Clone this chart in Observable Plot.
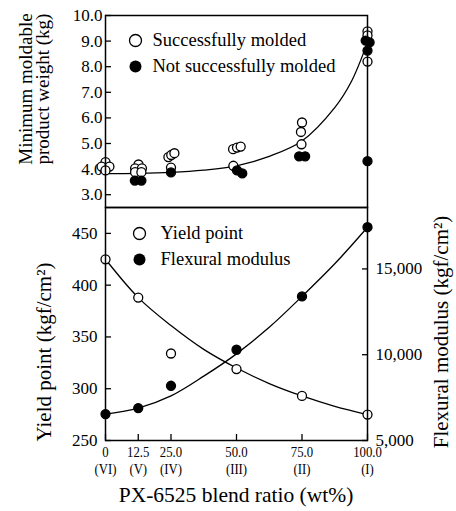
<!DOCTYPE html>
<html><head><meta charset="utf-8">
<script src="https://cdn.jsdelivr.net/npm/d3@7"></script>
<script src="https://cdn.jsdelivr.net/npm/@observablehq/plot@0.6"></script>
<style>
body{margin:0;background:#fff;}
#wrap{position:relative;width:456px;height:511px;}
#wrap svg{position:absolute;left:0;overflow:visible;font-family:'Liberation Serif','Times New Roman',serif !important;}
#wrap svg text{font-family:'Liberation Serif','Times New Roman',serif !important;}
</style></head><body><div id="wrap"></div>
<script>
// ---- data ----
const blendTicks = [0, 12.5, 25, 50, 75, 100];
const blendLabels = ["0", "12.5", "25.0", "50.0", "75.0", "100.0"];
const gradeLabels = ["(VI)", "(V)", "(IV)", "(III)", "(II)", "(I)"];
const weightTicks = [3, 4, 5, 6, 7, 8, 9, 10];
const yieldTicks = [250, 300, 350, 400, 450];
const flexTicks = [5000, 10000, 15000];

// top panel: minimum moldable product weight (kg)
const successBlend = [0, -1.5, 1.5, 0, 12.6, 11.3, 13.9, 11.3, 13.7, 24, 25.1, 26.3, 25, 48.7, 50.2, 51.6, 48.8, 75, 74.6, 74.8, 100, 100, 100];
const successWeight = [4.27, 4.1, 4.1, 3.95, 4.18, 4.03, 4.03, 3.88, 3.88, 4.47, 4.55, 4.62, 4.06, 4.78, 4.84, 4.88, 4.13, 5.82, 5.45, 4.97, 9.38, 9.22, 8.2];
const failBlend = [11.2, 13.7, 25, 50.2, 52.2, 73.9, 76.2, 99.3, 100.8, 100, 100];
const failWeight = [3.55, 3.55, 3.87, 3.95, 3.83, 4.5, 4.5, 9.02, 8.95, 8.63, 4.31];
const weightCurveBlend = [0, 12.5, 25, 37.5, 50, 62.5, 75, 87.5, 93.75, 100];
const weightCurveValue = [3.82, 3.83, 3.87, 3.96, 4.13, 4.5, 5.1, 6.4, 7.4, 8.95];

// bottom panel
const pointBlend = [0, 12.5, 25, 50, 75, 100];
const yieldPoint = [425, 388, 334, 319, 293, 275];
const flexModulus = [6540, 6890, 8190, 10290, 13400, 17430];
const curveBlend = [0, 12.5, 25, 37.5, 50, 62.5, 75, 87.5, 100];
const yieldCurve = [425, 388, 361, 338, 320, 305, 293, 283, 275];
const flexCurve = [6540, 6890, 7600, 8750, 10050, 11600, 13400, 15300, 17430];

// ---- build ----
const FONT = "'Liberation Serif', 'Times New Roman', serif";
const zip = (xs, ys) => xs.map((x, i) => ({x, y: ys[i]}));
const base = (h, mt, mb) => ({
  width: 456, height: h, marginLeft: 105, marginRight: 89, marginTop: mt, marginBottom: mb,
  style: {background: "transparent", fontFamily: FONT, fontSize: "17px", color: "black", overflow: "visible"}
});
const dotOpen = {x: "x", y: "y", r: 4.5, fill: "white", stroke: "black", strokeWidth: 1.3};
const dotFill = {x: "x", y: "y", r: 4.5, fill: "black", stroke: "black", strokeWidth: 1.3};
const lineOpt = {x: "x", y: "y", curve: "catmull-rom", stroke: "black", strokeWidth: 1.3};
const tickOpt = {tickSize: -6, tickFormat: () => "", strokeWidth: 1.3, label: null};

const topPlot = Plot.plot({
  ...base(207, 15, 0),
  x: {domain: [0, 100], axis: null},
  y: {domain: [2.5, 10], axis: null},
  marks: [
    Plot.axisY(weightTicks, {tickSize: 0, tickPadding: 3, tickFormat: d => d.toFixed(1), fontSize: 17, label: null}),
    Plot.axisY(weightTicks, tickOpt),
    Plot.line(zip(weightCurveBlend, weightCurveValue), lineOpt),
    Plot.dot(zip(successBlend, successWeight), dotOpen),
    Plot.dot(zip(failBlend, failWeight), dotFill),
    Plot.frame({stroke: "black", strokeWidth: 1.5}),
    Plot.dot(["Successfully molded"], {frameAnchor: "top-left", dx: 30, dy: 25, r: 6, fill: "white", stroke: "black", strokeWidth: 1.3}),
    Plot.dot(["Not successfully molded"], {frameAnchor: "top-left", dx: 30, dy: 51, r: 6, fill: "black"}),
    Plot.text(["Successfully molded"], {frameAnchor: "top-left", dx: 47, dy: 25, text: d => d, textAnchor: "start", lineAnchor: "middle", fontSize: 18.5}),
    Plot.text(["Not successfully molded"], {frameAnchor: "top-left", dx: 47, dy: 51, text: d => d, textAnchor: "start", lineAnchor: "middle", fontSize: 18.5})
  ]
});

const botPlot = Plot.plot({
  ...base(304, 0, 71),
  x: {domain: [0, 100], axis: null},
  y: {domain: [250, 475], axis: null},
  marks: [
    Plot.axisY(yieldTicks, {tickSize: 0, tickPadding: 8, fontSize: 17, label: null}),
    Plot.axisY(yieldTicks, tickOpt),
    Plot.axisX(blendTicks, tickOpt),
    Plot.text(blendTicks, {x: d => d, text: (d, i) => blendLabels[i], frameAnchor: "bottom", dy: 11.5, lineAnchor: "middle", fontSize: 15}),
    Plot.text(blendTicks, {x: d => d, text: (d, i) => gradeLabels[i], frameAnchor: "bottom", dy: 29, lineAnchor: "middle", fontSize: 15}),
    Plot.line(zip(curveBlend, yieldCurve), lineOpt),
    Plot.dot(zip(pointBlend, yieldPoint), dotOpen),
    Plot.frame({stroke: "black", strokeWidth: 1.5}),
    Plot.dot(["Yield point"], {frameAnchor: "top-left", dx: 34, dy: 26, r: 6, fill: "white", stroke: "black", strokeWidth: 1.3}),
    Plot.dot(["Flexural modulus"], {frameAnchor: "top-left", dx: 34, dy: 52, r: 6, fill: "black"}),
    Plot.text(["Yield point"], {frameAnchor: "top-left", dx: 55, dy: 26, text: d => d, textAnchor: "start", lineAnchor: "middle", fontSize: 18.5}),
    Plot.text(["Flexural modulus"], {frameAnchor: "top-left", dx: 55, dy: 52, text: d => d, textAnchor: "start", lineAnchor: "middle", fontSize: 18.5})
  ]
});

const flexPlot = Plot.plot({
  ...base(304, 0, 71),
  x: {domain: [0, 100], axis: null},
  y: {domain: [5000, 18580], axis: null},
  marks: [
    Plot.axisY(flexTicks, {anchor: "right", tickSize: 0, tickPadding: 8, tickFormat: d3.format(","), fontSize: 17, label: null}),
    Plot.axisY(flexTicks, {anchor: "right", ...tickOpt}),
    Plot.line(zip(curveBlend, flexCurve), lineOpt),
    Plot.dot(zip(pointBlend, flexModulus), dotFill)
  ]
});

const wrap = document.getElementById("wrap");
topPlot.style.top = "0px";
botPlot.style.top = "207px";
flexPlot.style.top = "207px";
wrap.append(topPlot, botPlot, flexPlot);

// condensed x tick labels (the source uses a narrow face)
const condensed = new Set([...blendLabels, ...gradeLabels]);
d3.select(botPlot).selectAll("text").each(function() {
  if (!condensed.has(this.textContent)) return;
  const t = this.getAttribute("transform");
  if (t) {
    this.setAttribute("transform", t + " scale(0.85,1)");
  } else {
    const x = +(this.getAttribute("x") || 0), y = +(this.getAttribute("y") || 0);
    this.removeAttribute("x"); this.removeAttribute("y");
    this.setAttribute("transform", `translate(${x},${y}) scale(0.85,1)`);
  }
});

// axis titles
const svg = d3.select(wrap).append("svg").attr("width", 456).attr("height", 511)
  .style("top", "0px").style("pointer-events", "none")
  .attr("font-family", FONT).attr("fill", "black");
const title = (x, y, txt, size, rot) => svg.append("text")
  .attr("transform", `translate(${x},${y})` + (rot ? " rotate(-90)" : ""))
  .attr("text-anchor", "middle").attr("font-size", size).text(txt);
title(32, 89, "Minimum moldable", 19, true);
title(49, 89, "product weight (kg)", 19, true);
title(51, 352, "Yield point (kgf/cm²)", 21, true);
title(448, 332, "Flexural modulus (kgf/cm²)", 21, true);
title(236, 502, "PX-6525 blend ratio (wt%)", 21.5, false);
</script></body></html>
